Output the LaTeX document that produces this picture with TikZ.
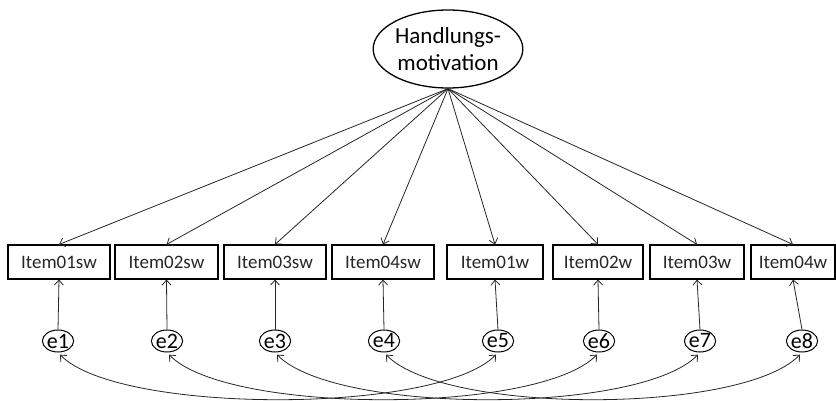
\documentclass[tikz,border=0pt]{standalone}
\usepackage{fontspec}
\setmainfont{Carlito}
\usetikzlibrary{arrows.meta,shapes.geometric}
\begin{document}
\begin{tikzpicture}[x=1pt,y=-1pt,
  >={Straight Barb[length=5pt,width=9pt]},
  itembox/.style={draw,line width=1.1pt,minimum height=34pt,inner sep=0pt,font=\fontsize{19}{20}\selectfont,text=black!85},
  errnode/.style={draw,ellipse,line width=1pt,minimum width=31pt,minimum height=22pt,inner sep=0pt,font=\fontsize{22}{24}\selectfont},
  path/.style={->,line width=0.8pt,draw=black!85},
  cov/.style={<->,line width=0.8pt,draw=black!85,shorten <=3pt,shorten >=3pt}]
\useasboundingbox (0,0) rectangle (836,401);
\node[draw,ellipse,line width=1.3pt,minimum width=142pt,minimum height=78pt,inner sep=0pt,align=center,font=\fontsize{23}{27}\selectfont] (hm) at (448,49) {Handlungs-\\motivation};
\node[itembox,minimum width=102pt] (i1) at (59,262) {Item01sw};
\node[itembox,minimum width=103pt] (i2) at (166.5,262) {Item02sw};
\node[itembox,minimum width=102pt] (i3) at (275,262) {Item03sw};
\node[itembox,minimum width=102pt] (i4) at (383,262) {Item04sw};
\node[itembox,minimum width=96pt] (i5) at (495,262) {Item01w};
\node[itembox,minimum width=90pt] (i6) at (598,262) {Item02w};
\node[itembox,minimum width=94pt] (i7) at (697,262) {Item03w};
\node[itembox,minimum width=84pt] (i8) at (793,262) {Item04w};
\node[errnode] (e1) at (58,341) {e1};
\node[errnode] (e2) at (167,341) {e2};
\node[errnode] (e3) at (275,341) {e3};
\node[errnode] (e4) at (384,341) {e4};
\node[errnode] (e5) at (498,341) {e5};
\node[errnode] (e6) at (599,341) {e6};
\node[errnode] (e7) at (700,341) {e7};
\node[errnode] (e8) at (802,341) {e8};
\foreach \i in {1,...,8}{
  \draw[path] (hm.south) -- (i\i.north);
  \draw[path] (e\i.north) -- (i\i.south);
}
\draw[cov] (e1.south) .. controls +(60,62) and +(-60,62) .. (e5.south);
\draw[cov] (e2.south) .. controls +(60,62) and +(-60,62) .. (e6.south);
\draw[cov] (e3.south) .. controls +(60,62) and +(-60,62) .. (e7.south);
\draw[cov] (e4.south) .. controls +(60,62) and +(-60,62) .. (e8.south);
\end{tikzpicture}
\end{document}
